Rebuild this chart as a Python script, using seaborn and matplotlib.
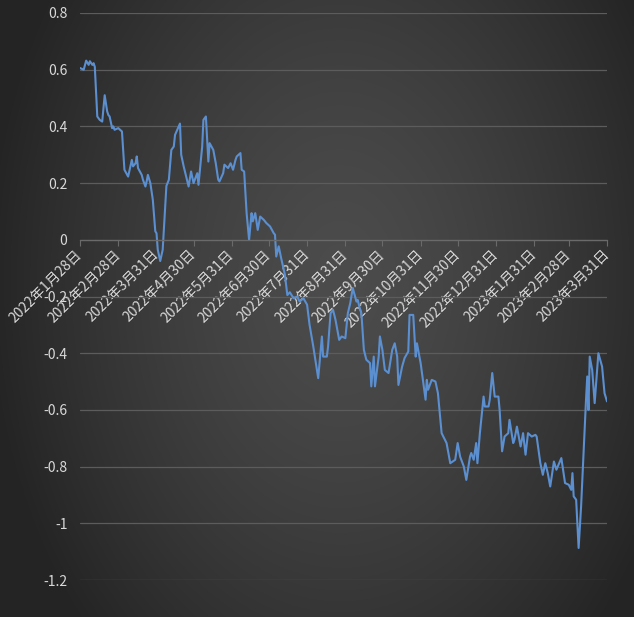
import numpy as np
import pandas as pd
import matplotlib
matplotlib.use("Agg")
import matplotlib.pyplot as plt
import seaborn as sns

dates = [
    "2022-01-28", "2022-01-31", "2022-02-02", "2022-02-04", "2022-02-05", "2022-02-07", "2022-02-08", "2022-02-09",
    "2022-02-11", "2022-02-13", "2022-02-15", "2022-02-17", "2022-02-19", "2022-02-20", "2022-02-21", "2022-02-23",
    "2022-02-24", "2022-02-25", "2022-02-28", "2022-03-03", "2022-03-05", "2022-03-08", "2022-03-11", "2022-03-12",
    "2022-03-14", "2022-03-15", "2022-03-16", "2022-03-19", "2022-03-20", "2022-03-22", "2022-03-23", "2022-03-24",
    "2022-03-26", "2022-03-28", "2022-03-30", "2022-03-31", "2022-04-01", "2022-04-03", "2022-04-05", "2022-04-08",
    "2022-04-10", "2022-04-12", "2022-04-14", "2022-04-15", "2022-04-18", "2022-04-19", "2022-04-20", "2022-04-22",
    "2022-04-26", "2022-04-28", "2022-04-30", "2022-05-03", "2022-05-04", "2022-05-07", "2022-05-08", "2022-05-10",
    "2022-05-12", "2022-05-13", "2022-05-16", "2022-05-18", "2022-05-20", "2022-05-21", "2022-05-24", "2022-05-25",
    "2022-05-28", "2022-05-30", "2022-06-01", "2022-06-03", "2022-06-04", "2022-06-07", "2022-06-08", "2022-06-10",
    "2022-06-12", "2022-06-14", "2022-06-16", "2022-06-17", "2022-06-19", "2022-06-21", "2022-06-23", "2022-06-26",
    "2022-06-28", "2022-07-01", "2022-07-04", "2022-07-05", "2022-07-06", "2022-07-08", "2022-07-10", "2022-07-13",
    "2022-07-15", "2022-07-17", "2022-07-20", "2022-07-23", "2022-07-25", "2022-07-28", "2022-07-31", "2022-08-02",
    "2022-08-05", "2022-08-09", "2022-08-12", "2022-08-13", "2022-08-16", "2022-08-17", "2022-08-19", "2022-08-21",
    "2022-08-23", "2022-08-26", "2022-08-28", "2022-08-31", "2022-09-02", "2022-09-04", "2022-09-06", "2022-09-09",
    "2022-09-10", "2022-09-12", "2022-09-13", "2022-09-15", "2022-09-17", "2022-09-20", "2022-09-21", "2022-09-23",
    "2022-09-24", "2022-09-27", "2022-09-28", "2022-09-30", "2022-10-02", "2022-10-05", "2022-10-08", "2022-10-10",
    "2022-10-12", "2022-10-13", "2022-10-16", "2022-10-18", "2022-10-21", "2022-10-22", "2022-10-25", "2022-10-27",
    "2022-10-28", "2022-10-31", "2022-11-04", "2022-11-05", "2022-11-06", "2022-11-09", "2022-11-12", "2022-11-14",
    "2022-11-17", "2022-11-21", "2022-11-24", "2022-11-28", "2022-11-30", "2022-12-02", "2022-12-05", "2022-12-07",
    "2022-12-10", "2022-12-11", "2022-12-13", "2022-12-15", "2022-12-16", "2022-12-18", "2022-12-21", "2022-12-22",
    "2022-12-25", "2022-12-26", "2022-12-28", "2022-12-30", "2023-01-02", "2023-01-03", "2023-01-05", "2023-01-07",
    "2023-01-10", "2023-01-11", "2023-01-14", "2023-01-15", "2023-01-17", "2023-01-20", "2023-01-22", "2023-01-24",
    "2023-01-26", "2023-01-29", "2023-02-01", "2023-02-02", "2023-02-05", "2023-02-07", "2023-02-09", "2023-02-11",
    "2023-02-13", "2023-02-16", "2023-02-18", "2023-02-22", "2023-02-25", "2023-02-28", "2023-03-02", "2023-03-03",
    "2023-03-04", "2023-03-06", "2023-03-08", "2023-03-10", "2023-03-12", "2023-03-14", "2023-03-15", "2023-03-16",
    "2023-03-17", "2023-03-19", "2023-03-21", "2023-03-24", "2023-03-27", "2023-03-29", "2023-03-31",
]

values = [
    0.606, 0.600, 0.632, 0.617, 0.630, 0.617, 0.623, 0.610,
    0.435, 0.423, 0.417, 0.510, 0.453, 0.440, 0.435, 0.394,
    0.400, 0.388, 0.394, 0.382, 0.247, 0.223, 0.282, 0.259,
    0.270, 0.294, 0.253, 0.229, 0.212, 0.188, 0.206, 0.229,
    0.200, 0.141, 0.030, 0.023, -0.035, -0.075, -0.035, 0.190,
    0.212, 0.317, 0.329, 0.370, 0.400, 0.410, 0.300, 0.259,
    0.188, 0.241, 0.200, 0.235, 0.194, 0.329, 0.423, 0.435,
    0.276, 0.341, 0.317, 0.270, 0.212, 0.206, 0.235, 0.265,
    0.253, 0.270, 0.247, 0.282, 0.294, 0.306, 0.247, 0.241,
    0.094, 0.000, 0.094, 0.065, 0.094, 0.035, 0.082, 0.070,
    0.059, 0.047, 0.023, 0.018, -0.059, -0.023, -0.065, -0.123,
    -0.195, -0.185, -0.206, -0.200, -0.218, -0.206, -0.229, -0.300,
    -0.376, -0.488, -0.341, -0.412, -0.412, -0.376, -0.259, -0.247,
    -0.282, -0.353, -0.341, -0.347, -0.259, -0.223, -0.170, -0.218,
    -0.212, -0.247, -0.259, -0.388, -0.423, -0.435, -0.517, -0.412,
    -0.517, -0.412, -0.341, -0.388, -0.459, -0.470, -0.388, -0.365,
    -0.412, -0.512, -0.447, -0.417, -0.394, -0.265, -0.265, -0.412,
    -0.365, -0.435, -0.564, -0.494, -0.529, -0.494, -0.500, -0.541,
    -0.682, -0.717, -0.788, -0.776, -0.717, -0.765, -0.800, -0.847,
    -0.765, -0.752, -0.776, -0.717, -0.788, -0.682, -0.553, -0.588,
    -0.588, -0.564, -0.470, -0.553, -0.553, -0.600, -0.746, -0.694,
    -0.682, -0.635, -0.717, -0.705, -0.659, -0.729, -0.682, -0.758,
    -0.682, -0.694, -0.688, -0.694, -0.788, -0.829, -0.788, -0.823,
    -0.870, -0.782, -0.811, -0.770, -0.858, -0.864, -0.882, -0.823,
    -0.905, -0.917, -1.087, -0.941, -0.752, -0.564, -0.482, -0.600,
    -0.412, -0.459, -0.576, -0.400, -0.447, -0.541, -0.570,
]

tick_dates = ["2022-01-28", "2022-02-28", "2022-03-31", "2022-04-30", "2022-05-31",
              "2022-06-30", "2022-07-31", "2022-08-31", "2022-09-30", "2022-10-31",
              "2022-11-30", "2022-12-31", "2023-01-31", "2023-02-28", "2023-03-31"]
tick_labels = ["2022年1月28日", "2022年2月28日", "2022年3月31日", "2022年4月30日", "2022年5月31日",
               "2022年6月30日", "2022年7月31日", "2022年8月31日", "2022年9月30日", "2022年10月31日",
               "2022年11月30日", "2022年12月31日", "2023年1月31日", "2023年2月28日", "2023年3月31日"]
y_ticks = [0.8, 0.6, 0.4, 0.2, 0.0, -0.2, -0.4, -0.6, -0.8, -1.0, -1.2]
y_labels = ["0.8", "0.6", "0.4", "0.2", "0", "-0.2", "-0.4", "-0.6", "-0.8", "-1", "-1.2"]

sns.set_theme(style="dark")
plt.rcParams['font.family'] = ['Noto Sans CJK SC', 'DejaVu Sans']

df = pd.DataFrame({"date": pd.to_datetime(dates), "value": values})

W, H = 634, 617
fig = plt.figure(figsize=(W / 100, H / 100), dpi=100)
fig.patch.set_facecolor('#3a3a3a')

# background gradient (lighter centre, darker edges)
bg = fig.add_axes([0, 0, 1, 1], zorder=-10)
yy, xx = np.mgrid[0:H, 0:W]
dx = (xx - 340) / 330.0
dy = (yy - 280) / 330.0
r = np.sqrt(dx ** 2 + (0.7 * dy) ** 2)
g = np.clip(76 - 36 * r ** 1.4, 36, 80) / 255.0
img = np.dstack([g, g, g])
bg.imshow(img, aspect='auto', extent=[0, 1, 0, 1], origin='upper', interpolation='bilinear')
bg.set_xlim(0, 1)
bg.set_ylim(0, 1)
bg.axis('off')

ax = fig.add_axes([80 / W, 1 - 580 / H, (607 - 80) / W, (580 - 13) / H])
ax.set_facecolor('none')

sns.lineplot(data=df, x="date", y="value", ax=ax, color="#5b8fcf", linewidth=1.5)

for s in ['top', 'right', 'left']:
    ax.spines[s].set_visible(False)
ax.spines['bottom'].set_position(('data', 0))
ax.spines['bottom'].set_color('#6a6a6a')
ax.spines['bottom'].set_linewidth(0.9)

ax.set_ylim(-1.2, 0.8)
ax.set_xlim(pd.Timestamp(tick_dates[0]), pd.Timestamp(tick_dates[-1]))
ax.set_yticks(y_ticks)
ax.set_yticklabels(y_labels)
ax.set_xticks(pd.to_datetime(tick_dates))
ax.set_xticklabels(tick_labels)

ax.grid(True, axis='y', color='#5c5c5c', linewidth=0.9)
ax.grid(False, axis='x')

ax.tick_params(axis='y', length=0, pad=9, labelsize=10, labelcolor='#d9d9d9')
ax.tick_params(axis='x', length=4, width=0.8, color='#6a6a6a', direction='out', pad=5,
               labelsize=10, labelcolor='#d9d9d9', bottom=True)
for lbl in ax.get_xticklabels():
    lbl.set_rotation(45)
    lbl.set_ha('right')
    lbl.set_va('center')
    lbl.set_rotation_mode('anchor')
ax.set_xlabel("")
ax.set_ylabel("")

fig.savefig("out.png", dpi=100, facecolor=fig.get_facecolor())
